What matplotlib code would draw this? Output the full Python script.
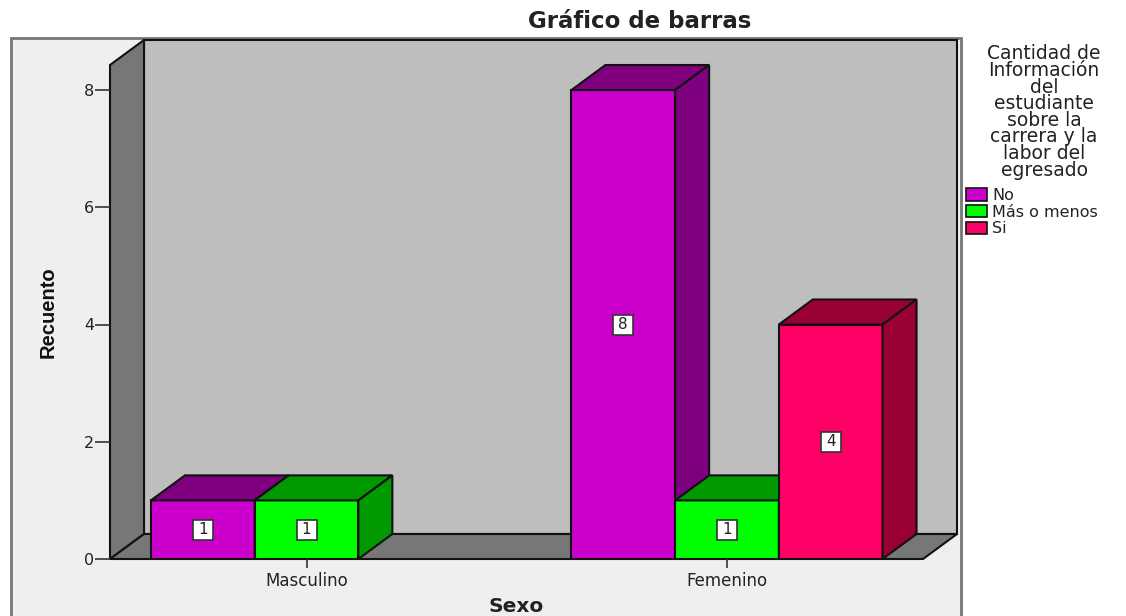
import matplotlib
matplotlib.use("Agg")
import matplotlib.pyplot as plt
from matplotlib.patches import Patch, Rectangle

# Data
categories = ["Masculino", "Femenino"]
no_values = [1, 8]
mas_o_menos_values = [1, 1]
si_values = [0, 4]
series_names = ["No", "Más o menos", "Si"]
y_ticks = [0, 2, 4, 6, 8]
title = "Gráfico de barras"
x_label = "Sexo"
y_label = "Recuento"
legend_title = "Cantidad de\nInformación\ndel\nestudiante\nsobre la\ncarrera y la\nlabor del\negresado"

# Style
FRONT = ["#CC00CC", "#00FF00", "#FF0066"]
DARK = ["#7F007F", "#009900", "#990033"]
WALL = "#777777"
BACK = "#BEBEBE"
PANEL = "#EFEFEF"
EDGE = "#111111"
W, H = 1126, 616
BAR_W = 0.2466
# 3d offset of the box, in data units
DX = 34 / 420.5
DY = 25 / 58.625
LW = 1.5

plt.rcParams["font.family"] = ["DejaVu Sans"]
fig = plt.figure(figsize=(W / 100, H / 100), dpi=100, facecolor="white")

# grey panel behind the plot, runs off the bottom of the image
fig.add_artist(Rectangle((11 / W, -0.02), 950 / W, 1.02 - 38 / H, transform=fig.transFigure,
                         facecolor=PANEL, edgecolor="#777777", lw=2, zorder=-1))

ax = fig.add_axes([110 / W, 1 - 559 / H, 847 / W, 519 / H])
ax.patch.set_visible(False)
x0 = -196.5 / 420.5
x1 = 616.5 / 420.5
ax.set_xlim(x0, x0 + 847 / 420.5)
ax.set_ylim(0, 519 / 58.625)
y_top = 519 / 58.625 - DY
for s in ax.spines.values():
    s.set_visible(False)

# walls
ax.fill([x0 + DX, x1 + DX, x1 + DX, x0 + DX], [DY, DY, y_top + DY, y_top + DY],
        fc=BACK, ec=EDGE, lw=LW, clip_on=False, zorder=1)
ax.fill([x0, x0 + DX, x0 + DX, x0], [0, DY, y_top + DY, y_top],
        fc=WALL, ec=EDGE, lw=LW, clip_on=False, zorder=1)
ax.fill([x0, x0 + DX, x1 + DX, x1], [0, DY, DY, 0],
        fc=WALL, ec=EDGE, lw=LW, clip_on=False, zorder=1)

series = [no_values, mas_o_menos_values, si_values]
z = 2
for i in range(len(categories)):
    for j, vals in enumerate(series):
        v = vals[i]
        if v == 0:
            continue
        left = i + (j - 1.5) * BAR_W
        right = left + BAR_W
        ax.bar(left, v, BAR_W, align="edge", color=FRONT[j], edgecolor=EDGE, lw=LW, zorder=z)
        ax.fill([left, left + DX, right + DX, right], [v, v + DY, v + DY, v],
                fc=DARK[j], ec=EDGE, lw=LW, zorder=z)
        ax.fill([right, right + DX, right + DX, right], [0, DY, v + DY, v],
                fc=DARK[j], ec=EDGE, lw=LW, zorder=z)
        # square white tag behind the value
        ax.plot([left + BAR_W / 2], [v / 2], marker="s", ms=14.5, mfc="white", mec="#333333",
                mew=1.2, zorder=49)
        ax.text(left + BAR_W / 2, v / 2, str(v), ha="center", va="center", fontsize=11,
                color="#222222", zorder=50)
        z += 1

ax.set_xticks(range(len(categories)))
ax.set_xticklabels(categories, fontsize=12, color="#222222")
ax.set_yticks(y_ticks)
ax.tick_params(axis="x", length=6.5, width=1.2, color="#333333", pad=3)
ax.tick_params(axis="y", length=10.5, width=1.2, color="#333333", pad=1, labelsize=11.5, labelcolor="#222222")

fig.text(640 / W, 1 - 21 / H, title, ha="center", va="center", fontsize=16.5, fontweight="bold",
         color="#222222")
fig.text(516 / W, 1 - 606 / H, x_label, ha="center", va="center", fontsize=14.5, fontweight="bold",
         color="#222222")
fig.text(48 / W, 1 - 312 / H, y_label, ha="center", va="center", rotation=90, fontsize=14.5,
         fontweight="bold", color="#111111", family="Liberation Sans")

# legend
fig.text(1044 / W, 1 - 112 / H, legend_title, ha="center", va="center", fontsize=13.5,
         linespacing=0.84, color="#222222")
handles = [Patch(facecolor=FRONT[k], edgecolor=EDGE, lw=1.2) for k in range(3)]
fig.legend(handles, series_names, loc="upper left", bbox_to_anchor=(966 / W, 1 - 188 / H),
           frameon=False, fontsize=11.5, borderpad=0, borderaxespad=0, handlelength=1.3,
           handleheight=0.8, handletextpad=0.35, labelspacing=0.1, labelcolor="#222222")

fig.savefig("out.png", dpi=100)
